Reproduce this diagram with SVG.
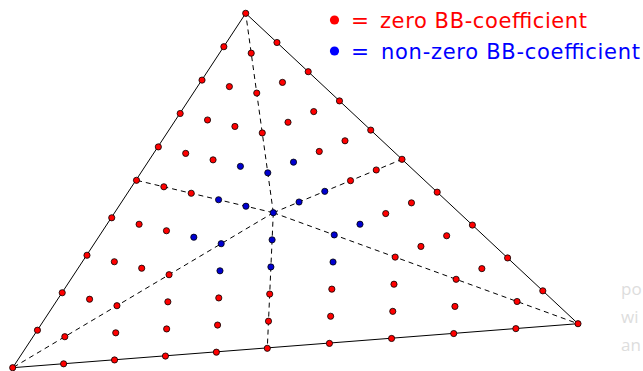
<svg xmlns="http://www.w3.org/2000/svg" width="643" height="371" viewBox="0 0 643 371">
<style>
.edge{fill:none;stroke:#000;stroke-width:1}
.dash{fill:none;stroke:#000;stroke-width:1;stroke-dasharray:5 4}
.r{fill:#ff0000;stroke:#000;stroke-width:0.8}
.b{fill:#0000d0;stroke:#000;stroke-width:0.8}
.lg{font-family:"DejaVu Sans","Liberation Sans",sans-serif;font-size:21px}
.faint{font-family:"Open Sans","Liberation Sans",sans-serif;font-size:17px;fill:#dddddd}
</style>
<rect width="643" height="371" fill="#fff"/>
<g id="connectors">
<polygon class="edge" points="245.7,13.3 12.7,367.7 578,323.7"/>
<line class="dash" x1="273.3" y1="212.7" x2="245.7" y2="13.3"/>
<line class="dash" x1="273.3" y1="212.7" x2="12.7" y2="367.7"/>
<line class="dash" x1="273.3" y1="212.7" x2="578" y2="323.7"/>
<line class="dash" x1="273.3" y1="212.7" x2="136.5" y2="180.3"/>
<line class="dash" x1="273.3" y1="212.7" x2="402" y2="159.3"/>
<line class="dash" x1="273.3" y1="212.7" x2="267.3" y2="348.3"/>
</g>
<g id="vertices">
<circle class="r" cx="245.7" cy="13.3" r="3.1"/>
<circle class="r" cx="12.7" cy="367.7" r="3.1"/>
<circle class="r" cx="578" cy="323.7" r="3.1"/>
<circle class="r" cx="136.5" cy="180.3" r="3.1"/>
<circle class="r" cx="402" cy="159.3" r="3.1"/>
<circle class="r" cx="267.3" cy="348.3" r="3.1"/>
</g>
<g id="outer-edge-points">
<circle class="r" cx="223.86" cy="46.7" r="3.1"/>
<circle class="r" cx="202.02" cy="80.1" r="3.1"/>
<circle class="r" cx="180.18" cy="113.5" r="3.1"/>
<circle class="r" cx="158.34" cy="146.9" r="3.1"/>
<circle class="r" cx="111.74" cy="217.78" r="3.1"/>
<circle class="r" cx="86.98" cy="255.26" r="3.1"/>
<circle class="r" cx="62.22" cy="292.74" r="3.1"/>
<circle class="r" cx="37.46" cy="330.22" r="3.1"/>
<circle class="r" cx="63.62" cy="363.82" r="3.1"/>
<circle class="r" cx="114.54" cy="359.94" r="3.1"/>
<circle class="r" cx="165.46" cy="356.06" r="3.1"/>
<circle class="r" cx="216.38" cy="352.18" r="3.1"/>
<circle class="r" cx="329.44" cy="343.38" r="3.1"/>
<circle class="r" cx="391.58" cy="338.46" r="3.1"/>
<circle class="r" cx="453.72" cy="333.54" r="3.1"/>
<circle class="r" cx="515.86" cy="328.62" r="3.1"/>
<circle class="r" cx="542.8" cy="290.82" r="3.1"/>
<circle class="r" cx="507.6" cy="257.94" r="3.1"/>
<circle class="r" cx="472.4" cy="225.06" r="3.1"/>
<circle class="r" cx="437.2" cy="192.18" r="3.1"/>
<circle class="r" cx="370.74" cy="130.1" r="3.1"/>
<circle class="r" cx="339.48" cy="100.9" r="3.1"/>
<circle class="r" cx="308.22" cy="71.7" r="3.1"/>
<circle class="r" cx="276.96" cy="42.5" r="3.1"/>
</g>
<g id="radial-points">
<circle class="b" cx="267.78" cy="172.82" r="3.1"/>
<circle class="r" cx="262.26" cy="132.94" r="3.1"/>
<circle class="r" cx="256.74" cy="93.06" r="3.1"/>
<circle class="r" cx="251.22" cy="53.18" r="3.1"/>
<circle class="b" cx="221.18" cy="243.7" r="3.1"/>
<circle class="r" cx="169.06" cy="274.7" r="3.1"/>
<circle class="r" cx="116.94" cy="305.7" r="3.1"/>
<circle class="r" cx="64.82" cy="336.7" r="3.1"/>
<circle class="b" cx="334.24" cy="234.9" r="3.1"/>
<circle class="r" cx="395.18" cy="257.1" r="3.1"/>
<circle class="r" cx="456.12" cy="279.3" r="3.1"/>
<circle class="r" cx="517.06" cy="301.5" r="3.1"/>
<circle class="b" cx="245.94" cy="206.22" r="3.1"/>
<circle class="b" cx="218.58" cy="199.74" r="3.1"/>
<circle class="r" cx="191.22" cy="193.26" r="3.1"/>
<circle class="r" cx="163.86" cy="186.78" r="3.1"/>
<circle class="b" cx="299.04" cy="202.02" r="3.1"/>
<circle class="b" cx="324.78" cy="191.34" r="3.1"/>
<circle class="r" cx="350.52" cy="180.66" r="3.1"/>
<circle class="r" cx="376.26" cy="169.98" r="3.1"/>
<circle class="b" cx="272.1" cy="239.82" r="3.1"/>
<circle class="b" cx="270.9" cy="266.94" r="3.1"/>
<circle class="r" cx="269.7" cy="294.06" r="3.1"/>
<circle class="r" cx="268.5" cy="321.18" r="3.1"/>
</g>
<g id="interior-points">
<circle class="r" cx="185.7" cy="153.38" r="3.1"/>
<circle class="r" cx="207.54" cy="119.98" r="3.1"/>
<circle class="r" cx="229.38" cy="86.58" r="3.1"/>
<circle class="r" cx="213.06" cy="159.86" r="3.1"/>
<circle class="r" cx="234.9" cy="126.46" r="3.1"/>
<circle class="b" cx="240.42" cy="166.34" r="3.1"/>
<circle class="r" cx="345" cy="140.78" r="3.1"/>
<circle class="r" cx="313.74" cy="111.58" r="3.1"/>
<circle class="r" cx="282.48" cy="82.38" r="3.1"/>
<circle class="r" cx="319.26" cy="151.46" r="3.1"/>
<circle class="r" cx="288" cy="122.26" r="3.1"/>
<circle class="b" cx="293.52" cy="162.14" r="3.1"/>
<circle class="r" cx="139.1" cy="224.26" r="3.1"/>
<circle class="r" cx="114.34" cy="261.74" r="3.1"/>
<circle class="r" cx="89.58" cy="299.22" r="3.1"/>
<circle class="r" cx="166.46" cy="230.74" r="3.1"/>
<circle class="r" cx="141.7" cy="268.22" r="3.1"/>
<circle class="b" cx="193.82" cy="237.22" r="3.1"/>
<circle class="r" cx="217.58" cy="325.06" r="3.1"/>
<circle class="r" cx="166.66" cy="328.94" r="3.1"/>
<circle class="r" cx="115.74" cy="332.82" r="3.1"/>
<circle class="r" cx="218.78" cy="297.94" r="3.1"/>
<circle class="r" cx="167.86" cy="301.82" r="3.1"/>
<circle class="b" cx="219.98" cy="270.82" r="3.1"/>
<circle class="r" cx="330.64" cy="316.26" r="3.1"/>
<circle class="r" cx="392.78" cy="311.34" r="3.1"/>
<circle class="r" cx="454.92" cy="306.42" r="3.1"/>
<circle class="r" cx="331.84" cy="289.14" r="3.1"/>
<circle class="r" cx="393.98" cy="284.22" r="3.1"/>
<circle class="b" cx="333.04" cy="262.02" r="3.1"/>
<circle class="r" cx="411.46" cy="202.86" r="3.1"/>
<circle class="r" cx="446.66" cy="235.74" r="3.1"/>
<circle class="r" cx="481.86" cy="268.62" r="3.1"/>
<circle class="r" cx="385.72" cy="213.54" r="3.1"/>
<circle class="r" cx="420.92" cy="246.42" r="3.1"/>
<circle class="b" cx="359.98" cy="224.22" r="3.1"/>
</g>
<g id="center">
<circle class="b" cx="273.3" cy="212.7" r="3.1"/>
</g>
<g id="legend-zero" class="lg" fill="#ff0000">
<circle cx="334.5" cy="20" r="4.6"/>
<text x="351" y="27.5" font-size="22" textLength="18" lengthAdjust="spacingAndGlyphs">=</text>
<text x="380" y="27.5" textLength="207" lengthAdjust="spacing">zero BB-coefficient</text>
</g>
<g id="legend-nonzero" class="lg" fill="#0000ff">
<circle cx="334.5" cy="51" r="4.6"/>
<text x="351" y="58.5" font-size="22" textLength="18" lengthAdjust="spacingAndGlyphs">=</text>
<text x="381" y="58.5" textLength="259" lengthAdjust="spacing">non-zero BB-coefficient</text>
</g>
<g id="faint-text" class="faint">
<text x="621" y="295">po</text>
<text x="621" y="323">wi</text>
<text x="621" y="351">an</text>
</g>
</svg>
